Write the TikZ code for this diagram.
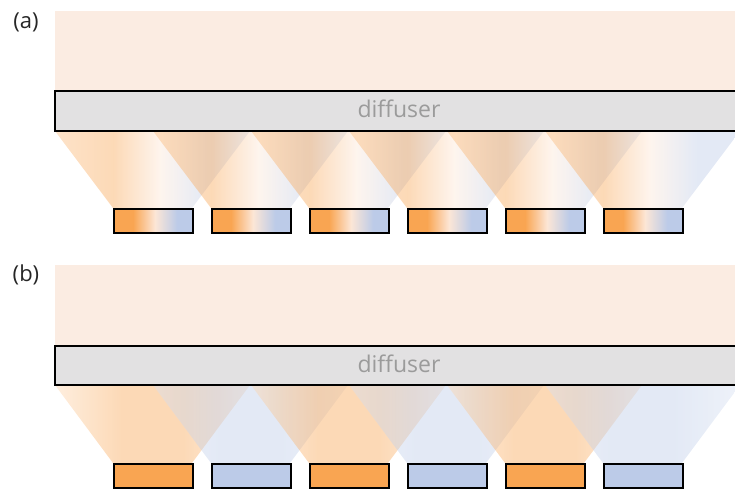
\documentclass[tikz,border=0pt]{standalone}
\usepackage{fontspec}
\setmainfont{Open Sans}
\definecolor{co}{HTML}{F9A552}
\definecolor{cb}{HTML}{BCCBE8}
\definecolor{cw}{HTML}{FCE6D6}
\definecolor{peach}{HTML}{FBECE2}
\definecolor{diff}{HTML}{E2E1E2}
\definecolor{txt}{HTML}{9B9B9B}
\pgfdeclarehorizontalshading{ledgrad}{100bp}{color(0bp)=(co); color(25bp)=(co); color(37bp)=(co); color(51bp)=(cw); color(65bp)=(cb); color(75bp)=(cb); color(100bp)=(cb)}
\pgfdeclarehorizontalshading{conegrad}{100bp}{color(0bp)=(co!75); color(25bp)=(co!75); color(40bp)=(co); color(52bp)=(cw); color(64bp)=(cb); color(75bp)=(cb); color(100bp)=(cb)}
\pgfdeclarehorizontalshading{orgrad}{100bp}{color(0bp)=(co!45); color(25bp)=(co!45); color(42bp)=(co); color(58bp)=(co); color(75bp)=(co!45); color(100bp)=(co!45)}
\pgfdeclarehorizontalshading{blgrad}{100bp}{color(0bp)=(cb!60); color(25bp)=(cb!60); color(42bp)=(cb); color(58bp)=(cb); color(75bp)=(cb!60); color(100bp)=(cb!60)}
\tikzset{
  ledbox/.style={draw=black, line width=2pt, minimum width=79pt, minimum height=24pt, inner sep=0pt, anchor=north west},
  ledA/.style={ledbox, shade, shading=ledgrad},
  ledO/.style={ledbox, fill=co},
  ledB/.style={ledbox, fill=cb},
  difftext/.style={text=txt, font=\fontsize{23}{26}\selectfont},
  paneltext/.style={text=black!85, font=\fontsize{22}{26}\selectfont},
}
\begin{document}
\begin{tikzpicture}[x=1pt,y=-1pt]
\useasboundingbox (0,0) rectangle (735,488);
% ---------- panel (a) ----------
\fill[peach] (55,11) rectangle (735,91);
\foreach \i in {0,...,5}{
  \pgfmathsetmacro\l{113+98*\i}
  \shade[shading=conegrad, fill opacity=0.42] (\l-58,131) -- (\l+79+58,131) -- (\l+79,208) -- (\l,208) -- cycle;
}
\fill[diff] (55,91) rectangle (740,131);
\draw[line width=2pt] (740,91) -- (55,91) -- (55,131) -- (740,131);
\node[difftext] (da) at (399,109) {diffuser};
\foreach \i in {0,...,5}{
  \pgfmathsetmacro\l{113+98*\i}
  \node[ledA] (la\i) at (\l,208) {};
}
\node[paneltext] (pa) at (26,22) {(a)};
% ---------- panel (b) ----------
\fill[peach] (55,265) rectangle (735,346);
\foreach \i in {0,...,5}{
  \pgfmathsetmacro\l{113+98*\i}
  \pgfmathtruncatemacro\odd{mod(\i,2)}
  \ifnum\odd=0
    \shade[shading=orgrad, fill opacity=0.42] (\l-58,385) -- (\l+79+58,385) -- (\l+79,463) -- (\l,463) -- cycle;
  \else
    \shade[shading=blgrad, fill opacity=0.42] (\l-58,385) -- (\l+79+58,385) -- (\l+79,463) -- (\l,463) -- cycle;
  \fi
}
\fill[diff] (55,346) rectangle (740,385);
\draw[line width=2pt] (740,346) -- (55,346) -- (55,385) -- (740,385);
\node[difftext] (db) at (399,364) {diffuser};
\node[ledO] (lb0) at (113,463) {};
\node[ledB] (lb1) at (211,463) {};
\node[ledO] (lb2) at (309,463) {};
\node[ledB] (lb3) at (407,463) {};
\node[ledO] (lb4) at (505,463) {};
\node[ledB] (lb5) at (603,463) {};
\node[paneltext] (pb) at (26,275) {(b)};
\end{tikzpicture}
\end{document}
